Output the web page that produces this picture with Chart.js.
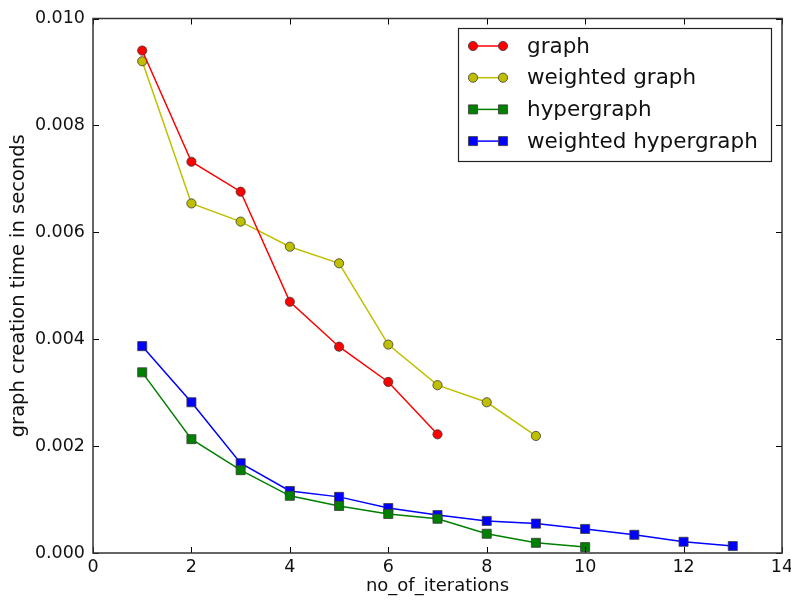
<!DOCTYPE html>
<html>
<head>
<meta charset="utf-8">
<script src="https://cdn.jsdelivr.net/npm/chart.js@4/dist/chart.umd.min.js"></script>
<style>
  html, body { margin:0; padding:0; background:#fff; }
  #wrap { width:791px; height:600px; position:relative; }
</style>
</head>
<body>
<div id="wrap"><canvas id="c"></canvas></div>
<script>
/* 데이터: 반복 횟수별 그래프 생성 시간(초) */
const ITER_GRAPH  = [1,2,3,4,5,6,7];
const T_GRAPH     = [0.0094,0.00732,0.00676,0.0047,0.00386,0.0032,0.00222];
const ITER_WGRAPH = [1,2,3,4,5,6,7,8,9];
const T_WGRAPH    = [0.0092,0.00654,0.0062,0.00573,0.00542,0.0039,0.00314,0.00282,0.00219];
const ITER_HYPER  = [1,2,3,4,5,6,7,8,9,10];
const T_HYPER     = [0.00338,0.00213,0.00155,0.00107,0.00088,0.00073,0.00064,0.00036,0.00019,0.00011];
const ITER_WHYPER = [1,2,3,4,5,6,7,8,9,10,11,12,13];
const T_WHYPER    = [0.00387,0.00282,0.00168,0.00116,0.00105,0.00084,0.00071,0.0006,0.00055,0.00045,0.00034,0.00021,0.00013];

const X_TICKS = [0,2,4,6,8,10,12,14];
const Y_TICKS = [0,0.002,0.004,0.006,0.008,0.010];

const FONT = "'DejaVu Sans', sans-serif";
const EDGE = '#3a3a3a';

function pts(xs, ys){ return xs.map((x,i)=>({x, y:ys[i]})); }

function ds(label, xs, ys, color, style){
  const r = style === 'rect' ? 6.4 : 4.6;
  return {
    label, data:pts(xs, ys),
    borderColor:color, backgroundColor:color,
    borderWidth:1.5, pointStyle:style, pointRadius:r,
    pointBackgroundColor:color, pointBorderColor:EDGE, pointBorderWidth:0.8,
    tension:0, fill:false
  };
}

/* ── 안쪽 눈금 + 테두리 ── */
const frameTicks = {
  id:'frameTicks',
  afterDatasetsDraw(chart){
    const { ctx, chartArea:a, scales:{x, y} } = chart;
    ctx.save();
    ctx.strokeStyle = '#000'; ctx.lineWidth = 1;
    const L = 6;
    ctx.beginPath();
    X_TICKS.forEach(v=>{
      const px = Math.round(x.getPixelForValue(v)) + 0.5;
      ctx.moveTo(px, a.bottom); ctx.lineTo(px, a.bottom - L);
      ctx.moveTo(px, a.top); ctx.lineTo(px, a.top + L);
    });
    Y_TICKS.forEach(v=>{
      const py = Math.round(y.getPixelForValue(v)) + 0.5;
      ctx.moveTo(a.left, py); ctx.lineTo(a.left + L, py);
      ctx.moveTo(a.right, py); ctx.lineTo(a.right - L, py);
    });
    ctx.stroke();
    ctx.strokeStyle = '#333'; ctx.lineWidth = 1.5;
    ctx.strokeRect(a.left, a.top, a.right - a.left, a.bottom - a.top);
    ctx.restore();
  }
};

/* ── 범례 (오른쪽 위, 그림 안) ── */
const boxLegend = {
  id:'boxLegend',
  afterDraw(chart){
    const { ctx } = chart;
    const bx = 458, by = 28, bw = 313, bh = 133;
    ctx.save();
    ctx.fillStyle = '#fff';
    ctx.fillRect(bx, by, bw, bh);
    ctx.strokeStyle = '#222'; ctx.lineWidth = 1.2;
    ctx.strokeRect(bx + 0.5, by + 0.5, bw, bh);
    ctx.font = `21.5px ${FONT}`;
    ctx.textBaseline = 'middle';
    chart.data.datasets.forEach((d,i)=>{
      const yy = 46 + i * 31.7;
      ctx.strokeStyle = d.borderColor; ctx.lineWidth = 1.5;
      ctx.beginPath(); ctx.moveTo(473, yy); ctx.lineTo(503, yy); ctx.stroke();
      [473, 503].forEach(xx=>{
        ctx.fillStyle = d.pointBackgroundColor;
        ctx.strokeStyle = d.pointBorderColor; ctx.lineWidth = d.pointBorderWidth;
        Chart.helpers.drawPoint(ctx, { pointStyle:d.pointStyle, radius:d.pointRadius, rotation:0, borderWidth:d.pointBorderWidth }, xx, yy);
      });
      ctx.fillStyle = '#111';
      ctx.fillText(d.label, 527, yy + 1);
    });
    ctx.restore();
  }
};

new Chart(document.getElementById('c'), {
  type:'line',
  data:{ datasets:[
    ds('graph', ITER_GRAPH, T_GRAPH, '#ff0000', 'circle'),
    ds('weighted graph', ITER_WGRAPH, T_WGRAPH, '#bfbf00', 'circle'),
    ds('hypergraph', ITER_HYPER, T_HYPER, '#008000', 'rect'),
    ds('weighted hypergraph', ITER_WHYPER, T_WHYPER, '#0000ff', 'rect')
  ]},
  plugins:[frameTicks, boxLegend],
  options:{
    responsive:true, maintainAspectRatio:false, animation:false,
    layout:{ padding:{ left:0, top:18, right:0, bottom:0 } },
    plugins:{ legend:{display:false}, tooltip:{enabled:false} },
    scales:{
      x:{
        type:'linear', min:0, max:14,
        afterBuildTicks:s=>{ s.ticks = X_TICKS.map(v=>({value:v})); },
        afterFit:s=>{ s.height = 47; s.paddingLeft = 0; s.paddingRight = 9; },
        grid:{ display:false, drawTicks:false }, border:{ display:false },
        ticks:{ color:'#111', padding:4, font:{family:FONT, size:17.5}, callback:v=>String(v) },
        title:{ display:true, text:'no_of_iterations', color:'#111', padding:{top:0,bottom:3}, font:{family:FONT, size:18} }
      },
      y:{
        min:0, max:0.010,
        afterBuildTicks:s=>{ s.ticks = Y_TICKS.map(v=>({value:v})); },
        afterFit:s=>{ s.width = 93; },
        grid:{ display:false, drawTicks:false }, border:{ display:false },
        ticks:{ color:'#111', padding:8, font:{family:FONT, size:17.5}, callback:v=>v.toFixed(3) },
        title:{ display:true, text:'graph creation time in seconds', color:'#111', padding:{top:7,bottom:0}, font:{family:FONT, size:19.5} }
      }
    }
  }
});
</script>
</body>
</html>
